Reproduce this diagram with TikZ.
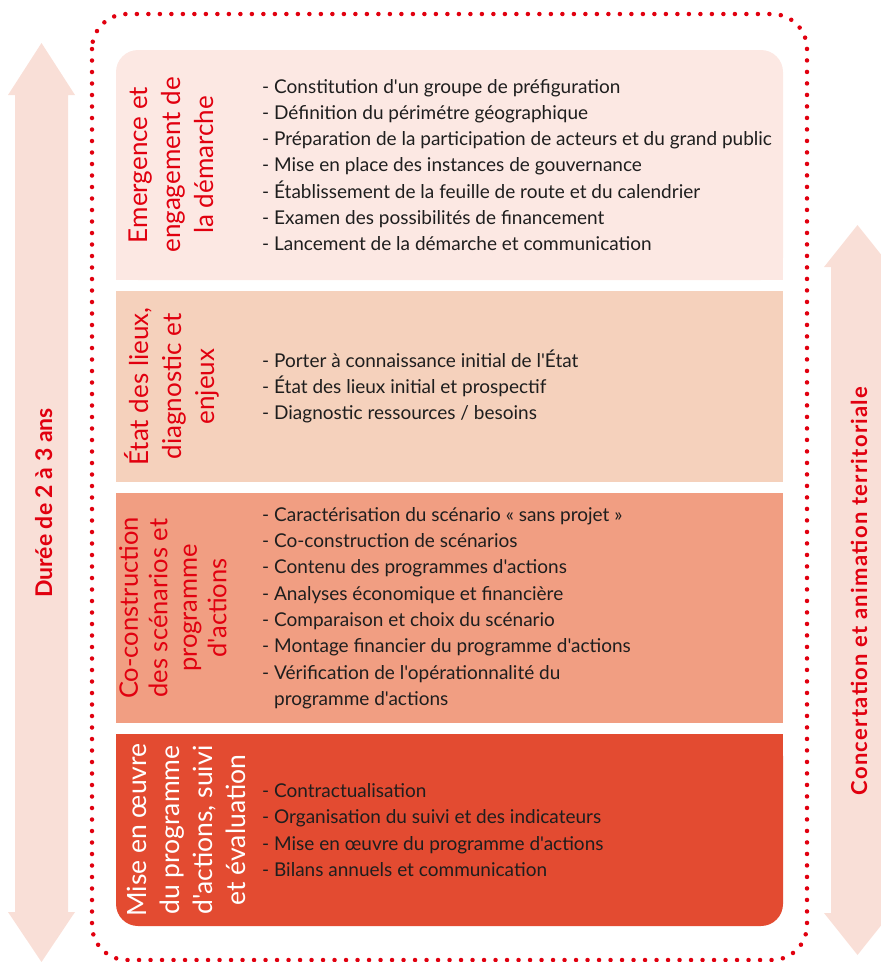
\documentclass[tikz,border=0pt]{standalone}
\usepackage{fontspec}
\setmainfont{Lato}[Ligatures=TeXOff]
\definecolor{rougeM}{HTML}{E1000F}
\definecolor{etapeA}{HTML}{FCE8E3}
\definecolor{etapeB}{HTML}{F5D1BC}
\definecolor{etapeC}{HTML}{F19E82}
\definecolor{etapeD}{HTML}{E34B31}
\definecolor{fleche}{HTML}{F9DFD7}
\definecolor{texte}{HTML}{1E1E1E}

\begin{document}
\begin{tikzpicture}[x=1pt, y=-1pt,
    titre/.style={rotate=90, anchor=north, align=center, inner sep=0pt,
        text=rougeM, font=\fontsize{26}{33}\selectfont},
    liste/.style={anchor=west, align=left, inner sep=0pt, text=texte,
        font=\fontsize{19}{26.3}\selectfont},
    legende/.style={rotate=90, anchor=base, inner sep=0pt, text=rougeM,
        font=\fontsize{23}{25}\selectfont\bfseries}]
    \useasboundingbox (0,0) rectangle (881,962);
    \clip (0,0) rectangle (881,962);

    % Arrows on both sides
    \fill[fleche] (41.5,43) -- (75,95) -- (68,95) -- (68,912) -- (75,912)
        -- (41.5,962) -- (8,912) -- (15,912) -- (15,95) -- (8,95) -- cycle;
    \fill[fleche] (857.5,225) -- (891,267) -- (884,267) -- (884,913) -- (891,913)
        -- (857.5,955) -- (824,913) -- (831,913) -- (831,267) -- (824,267) -- cycle;
    \node[legende] (duree) at (52,503) {Durée de 2 à 3 ans};
    \node[legende, font=\fontsize{22}{25}\selectfont\bfseries\addfontfeature{LetterSpace=6}]
        (concert) at (867,591) {Concertation et animation territoriale};

    % Dotted frame
    \draw[rougeM, line width=4.5pt, line cap=round, dash pattern=on 0pt off 11.5pt,
        rounded corners=35] (92,14) rectangle (807,960);

    % Step 1
    \fill[etapeA, rounded corners=22] (116,50) rectangle (783,280);
    \fill[etapeA] (116,100) rectangle (783,280);
    \node[titre] (t1) at (129,165) {Emergence et\\engagement de\\la démarche};
    \node[liste] (l1) at (262,165) {- Constitution d'un groupe de préfiguration\\
        - Définition du périmétre géographique\\
        - Préparation de la participation de acteurs et du grand public\\
        - Mise en place des instances de gouvernance\\
        - Établissement de la feuille de route et du calendrier\\
        - Examen des possibilités de financement\\
        - Lancement de la démarche et communication};

    % Step 2
    \fill[etapeB] (116,291) rectangle (783,482);
    \node[titre] (t2) at (124,386.5) {État des lieux,\\diagnostic et\\enjeux};
    \node[liste] (l2) at (262,386.5) {- Porter à connaissance initial de l'État\\
        - État des lieux initial et prospectif\\
        - Diagnostic ressources / besoins};

    % Step 3
    \fill[etapeC] (116,493) rectangle (783,723);
    \node[titre, font=\fontsize{25.5}{29.5}\selectfont] (t3) at (119,608)
        {Co-construction\\des scénarios et\\programme\\d'actions};
    \node[liste] (l3) at (262,608) {- Caractérisation du scénario « sans projet »\\
        - Co-construction de scénarios\\
        - Contenu des programmes d'actions\\
        - Analyses économique et financière\\
        - Comparaison et choix du scénario\\
        - Montage financier du programme d'actions\\
        - Vérification de l'opérationnalité du\\
        \phantom{- }programme d'actions};

    % Step 4
    \fill[etapeD, rounded corners=22] (116,734) rectangle (783,926);
    \fill[etapeD] (116,734) rectangle (783,850);
    \node[titre, text=white, font=\fontsize{26.5}{33}\selectfont] (t4) at (127,830)
        {Mise en œuvre\\du programme\\d'actions, suivi\\et évaluation};
    \node[liste] (l4) at (262,830) {- Contractualisation\\
        - Organisation du suivi et des indicateurs\\
        - Mise en œuvre du programme d'actions\\
        - Bilans annuels et communication};
\end{tikzpicture}
\end{document}
